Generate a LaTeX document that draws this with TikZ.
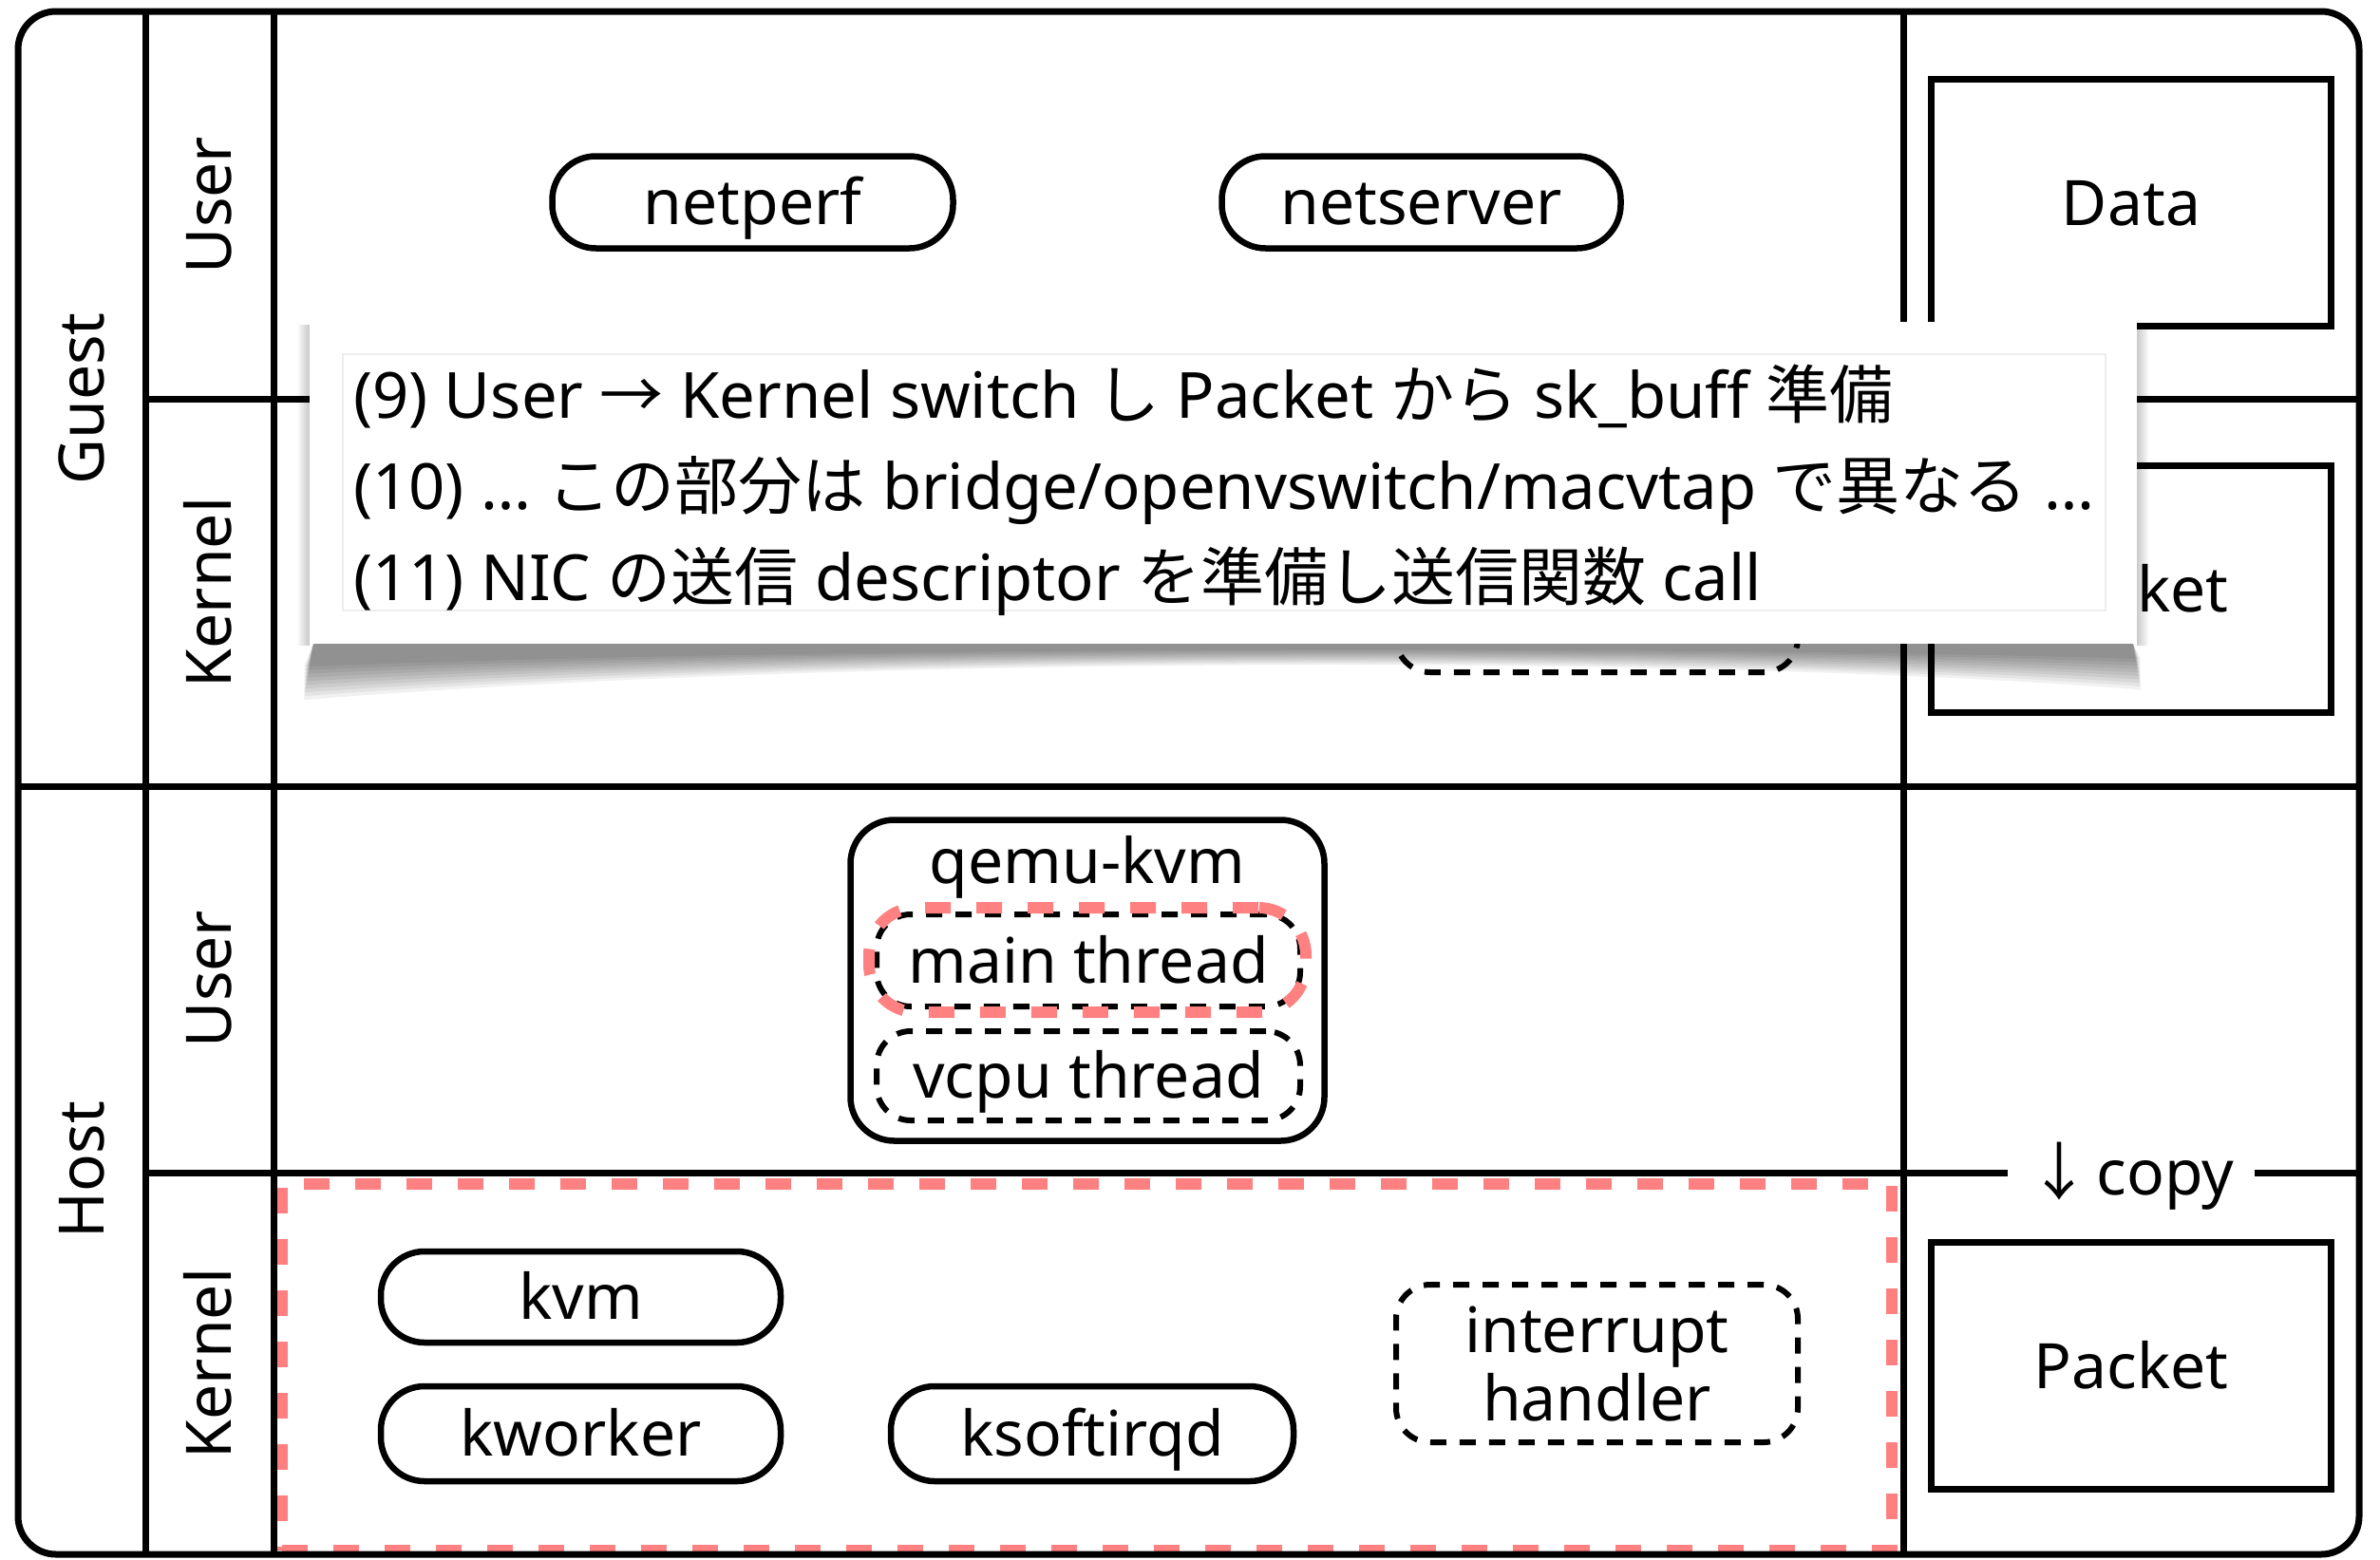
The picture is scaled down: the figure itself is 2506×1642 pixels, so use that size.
\documentclass[tikz,border=0pt]{standalone}
\usepackage{fontspec}
\setmainfont{Noto Sans}
\newfontfamily\jp{Noto Sans CJK JP}
\definecolor{hl}{RGB}{255,128,128}
\begin{document}
\begin{tikzpicture}[x=1pt,y=-1pt,
  every node/.style={inner sep=0pt, outer sep=0pt},
  bigfont/.style={font=\fontsize{66}{72}\selectfont},
  lbl/.style={bigfont, text height=47pt, text depth=0pt},
  frameline/.style={line width=7pt},
  pill/.style={lbl, draw, line width=6.5pt, rounded corners=46pt, fill=white},
  sqbox/.style={lbl, draw, line width=7.5pt, minimum width=421pt, minimum height=260pt},
  dashb/.style={draw, line width=6pt, rounded corners=36pt, dash pattern=on 17pt off 14pt},
  hlbox/.style={draw=hl, line width=12pt, dash pattern=on 27pt off 27pt},
  poptext/.style={font=\fontsize{67}{72}\selectfont, anchor=base west},
]
\useasboundingbox (0,0) rectangle (2506,1642);

% red highlight of host kernel
\node[hlbox, minimum width=1695pt, minimum height=386pt] (hostk) at (1144.5,1440) {};

% grid lines
\draw[frameline] (153,12) -- (153,1637);
\draw[frameline] (288,12) -- (288,1637);
\draw[frameline] (2004,12) -- (2004,1637);
\draw[frameline] (153,420) -- (2484,420);
\draw[frameline] (19,828) -- (2484,828);
\draw[frameline] (153,1235) -- (2484,1235);
\draw[frameline, rounded corners=40pt] (19,12) rectangle (2484,1637);

% side labels
\node[lbl, rotate=90] (guest) at (86,420) {Guest};
\node[lbl, rotate=90] (gu) at (220,216) {User};
\node[lbl, rotate=90] (gk) at (220,624) {Kernel};
\node[lbl, rotate=90] (host) at (86,1232) {Host};
\node[lbl, rotate=90] (hu) at (220,1031) {User};
\node[lbl, rotate=90] (hk) at (220,1436) {Kernel};

% right column
\node[sqbox] (data) at (2244,213.5) {Data};
\node[sqbox] (gpacket) at (2244,620.5) {Packet};
\node[sqbox] (hpacket) at (2244,1438.5) {Packet};
\node[lbl, fill=white, inner xsep=22pt] (copy) at (2244,1235) {{\jp ↓}\hspace{6pt}copy};

% guest user
\node[pill, minimum width=422pt, minimum height=97pt] (netperf) at (792.5,213) {netperf};
\node[pill, minimum width=420pt, minimum height=97pt] (netserver) at (1496.5,213) {netserver};

% guest kernel (hidden box)
\node[dashb, minimum width=423pt, minimum height=172pt] (gdash) at (1681.5,622) {};

% host user
\node[draw, line width=6.5pt, rounded corners=46pt, minimum width=499pt, minimum height=338pt] (qemu) at (1145,1032.5) {};
\node[lbl, anchor=base] (qemulbl) at (1145,930) {qemu-kvm};
\node[dashb, lbl, minimum width=446pt, minimum height=97pt] (main) at (1146,1011.5) {main thread};
\node[dashb, lbl, minimum width=446pt, minimum height=94pt] (vcpu) at (1146,1133) {vcpu thread};
\node[hlbox, rounded corners=50pt, minimum width=460pt, minimum height=110pt] (mainhl) at (1145,1011) {};

% host kernel
\node[pill, minimum width=421pt, minimum height=96pt] (kvm) at (611.5,1366) {kvm};
\node[pill, minimum width=421pt, minimum height=100pt] (kworker) at (611.5,1510) {kworker};
\node[pill, minimum width=424pt, minimum height=100pt] (ksoftirqd) at (1150,1510) {ksoftirqd};
\node[dashb, bigfont, align=center, minimum width=423pt, minimum height=166pt] (irq) at (1681.5,1436) {interrupt\\handler};

% popup shadow
\foreach \i in {0,...,9}
  \fill[black, opacity=0.055] (330,678) -- (2246,678) -- (2254,694+3.6*\i)
     .. controls (1800,680+1.1*\i) and (900,680+1.1*\i) .. (320,702+3.9*\i) -- cycle;
\foreach \i in {1,...,6} {
  \fill[black, opacity=0.035] (326-2*\i,342) rectangle (326,680);
  \fill[black, opacity=0.035] (2250,342) rectangle (2250+2*\i,680);
}
% popup
\node[fill=white, minimum width=1924pt, minimum height=339pt] (popup) at (1288,508.5) {};
\node[draw=black!7, line width=1.5pt, minimum width=1856pt, minimum height=270pt] (popin) at (1289,508) {};
\node[poptext] (l1) at (372,440) {(9) User {\jp →} Kernel switch {\jp し} Packet {\jp から} sk\_buff {\jp 準備}};
\node[poptext] (l2) at (372,536) {(10) … {\jp この部分は} bridge/openvswitch/macvtap {\jp で異なる} …};
\node[poptext] (l3) at (372,632) {(11) NIC {\jp の送信} descriptor {\jp を準備し送信関数} call};
\end{tikzpicture}
\end{document}
